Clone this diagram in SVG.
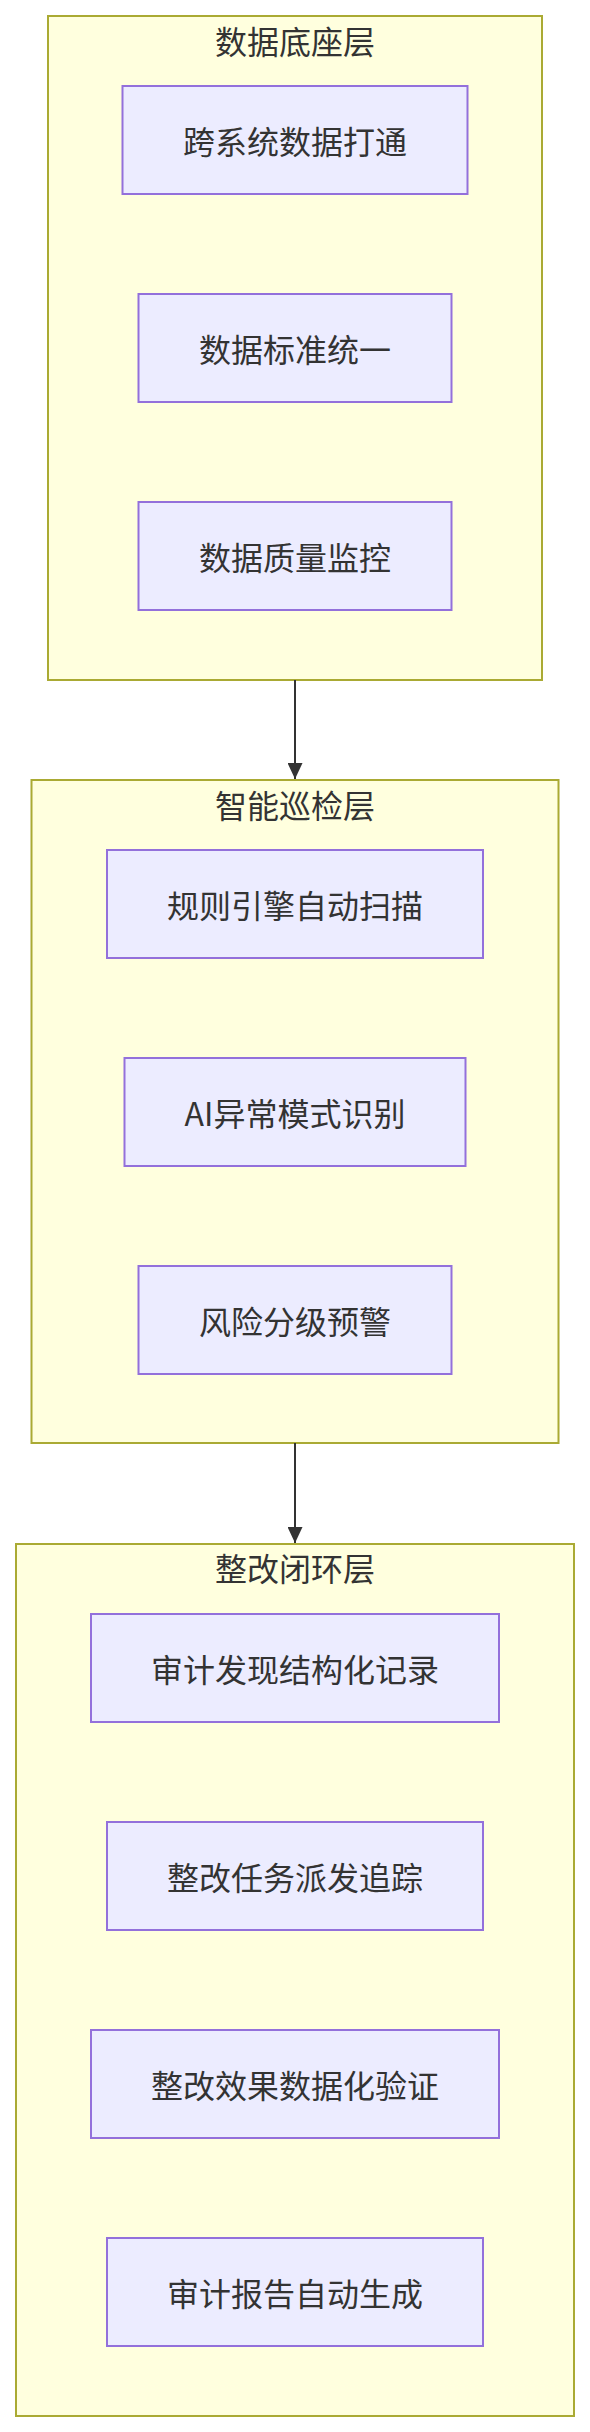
<svg xmlns="http://www.w3.org/2000/svg" width="590" height="2432" viewBox="0 0 590 2432">
<style>
.cluster rect{fill:#ffffde;stroke:#aaaa33;stroke-width:2px}
.node rect{fill:#ececff;stroke:#9370db;stroke-width:2px}
text{font-family:"Noto Sans CJK SC","Noto Sans",sans-serif;font-size:32px;fill:#333333;text-anchor:middle;dominant-baseline:central}
.edge{stroke:#333333;stroke-width:2px;fill:none}
</style>
<defs>
<marker id="arrowhead" viewBox="0 0 16 15" refX="16" refY="7.5" markerWidth="16" markerHeight="15" markerUnits="userSpaceOnUse" orient="auto">
<path d="M0,0 L16,7.5 L0,15 z" fill="#333333"/>
</marker>
</defs>
<g id="clusters">
<g id="cluster-data" class="cluster"><rect x="48" y="16" width="494" height="664"/><text x="295" y="40">数据底座层</text></g>
<g id="cluster-patrol" class="cluster"><rect x="31.5" y="780" width="527" height="663"/><text x="295" y="804">智能巡检层</text></g>
<g id="cluster-fix" class="cluster"><rect x="16" y="1544" width="558" height="872"/><text x="295" y="1567">整改闭环层</text></g>
</g>
<g id="edges">
<path class="edge" d="M295,680 L295,779" marker-end="url(#arrowhead)"/>
<path class="edge" d="M295,1443 L295,1543" marker-end="url(#arrowhead)"/>
</g>
<g id="nodes">
<g id="n1" class="node"><rect x="122.5" y="86" width="345" height="108"/><text x="295" y="140">跨系统数据打通</text></g>
<g id="n2" class="node"><rect x="138.5" y="294" width="313" height="108"/><text x="295" y="348">数据标准统一</text></g>
<g id="n3" class="node"><rect x="138.5" y="502" width="313" height="108"/><text x="295" y="556">数据质量监控</text></g>
<g id="n4" class="node"><rect x="107" y="850" width="376" height="108"/><text x="295" y="904">规则引擎自动扫描</text></g>
<g id="n5" class="node"><rect x="124.5" y="1058" width="341" height="108"/><text x="295" y="1112">AI异常模式识别</text></g>
<g id="n6" class="node"><rect x="138.5" y="1266" width="313" height="108"/><text x="295" y="1320">风险分级预警</text></g>
<g id="n7" class="node"><rect x="91" y="1614" width="408" height="108"/><text x="295" y="1668">审计发现结构化记录</text></g>
<g id="n8" class="node"><rect x="107" y="1822" width="376" height="108"/><text x="295" y="1876">整改任务派发追踪</text></g>
<g id="n9" class="node"><rect x="91" y="2030" width="408" height="108"/><text x="295" y="2084">整改效果数据化验证</text></g>
<g id="n10" class="node"><rect x="107" y="2238" width="376" height="108"/><text x="295" y="2292">审计报告自动生成</text></g>
</g>
</svg>
